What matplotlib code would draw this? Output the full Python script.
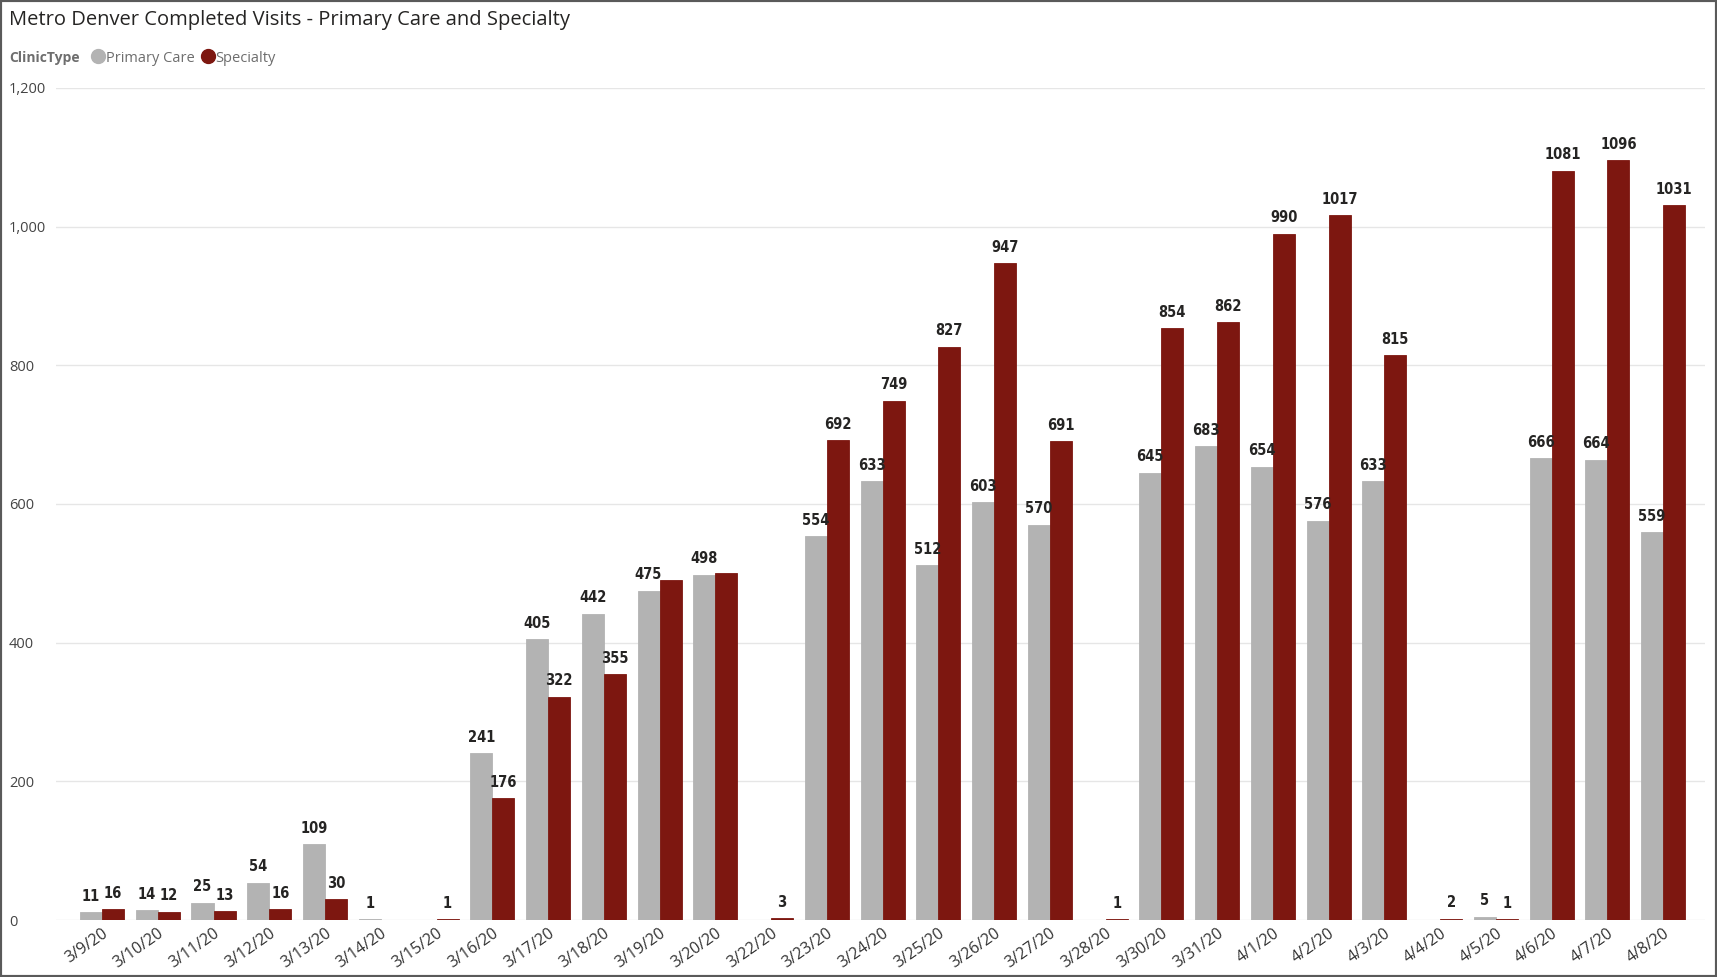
import matplotlib
matplotlib.use("Agg")
import matplotlib.pyplot as plt
import numpy as np
from matplotlib.lines import Line2D
from matplotlib.patches import Rectangle
from matplotlib.ticker import FuncFormatter

dates = [
    "3/9/20", "3/10/20", "3/11/20", "3/12/20", "3/13/20", "3/14/20", "3/15/20",
    "3/16/20", "3/17/20", "3/18/20", "3/19/20", "3/20/20", "3/22/20", "3/23/20",
    "3/24/20", "3/25/20", "3/26/20", "3/27/20", "3/28/20", "3/30/20", "3/31/20",
    "4/1/20", "4/2/20", "4/3/20", "4/4/20", "4/5/20", "4/6/20", "4/7/20", "4/8/20",
]
primary_care = [
    11, 14, 25, 54, 109, 1, 0, 241, 405, 442, 475, 498, 0, 554,
    633, 512, 603, 570, 0, 645, 683, 654, 576, 633, 0, 5, 666, 664, 559,
]
specialty = [
    16, 12, 13, 16, 30, 0, 1, 176, 322, 355, 490, 501, 3, 692,
    749, 827, 947, 691, 1, 854, 862, 990, 1017, 815, 2, 1, 1081, 1096, 1031,
]
# labels Power BI dropped because they collided
specialty_hidden_labels = ["3/19/20", "3/20/20"]
y_ticks = [0, 200, 400, 600, 800, 1000, 1200]

GREY = "#B3B3B3"
RED = "#7D1710"
W, H = 1717, 977

plt.rcParams["font.family"] = ["Open Sans", "DejaVu Sans"]

fig = plt.figure(figsize=(W / 100, H / 100), dpi=100)
ax = fig.add_axes([56 / W, 57 / H, (1705 - 56) / W, (920 - 88) / H])

x = np.arange(len(dates))
bw = 0.395
ax.bar(x - bw / 2, primary_care, bw, color=GREY, edgecolor=GREY, linewidth=0.6, zorder=3)
ax.bar(x + bw / 2, specialty, bw, color=RED, edgecolor=RED, linewidth=0.6, zorder=3)

lab_kw = dict(textcoords="offset points", xytext=(0, 6), ha="center", va="bottom",
              fontsize=10.5, fontweight="bold", fontstretch="condensed",
              family=["DejaVu Sans"], color="#252423", zorder=5)
for i, d in enumerate(dates):
    if primary_care[i] > 0:
        ax.annotate(str(primary_care[i]), (x[i] - bw / 2, primary_care[i]), **lab_kw)
    if specialty[i] > 0 and d not in specialty_hidden_labels:
        ax.annotate(str(specialty[i]), (x[i] + bw / 2, specialty[i]), **lab_kw)

ax.set_xlim(-0.825, len(dates) - 1 + 0.75)
ax.set_ylim(0, 1200)
ax.set_yticks(y_ticks)
ax.yaxis.set_major_formatter(FuncFormatter(lambda v, p: f"{int(v):,}"))
ax.grid(axis="y", color="#E6E6E6", linewidth=1, zorder=0)
for s in ax.spines.values():
    s.set_visible(False)

ax.set_xticks(x)
ax.set_xticklabels(dates, rotation=35, ha="right", rotation_mode="anchor",
                   fontsize=11.5, color="#333333")
ax.tick_params(axis="x", length=0, pad=4)
ax.tick_params(axis="y", length=0, pad=34, labelsize=10.5, labelcolor="#444444")
for lbl in ax.get_yticklabels():
    lbl.set_ha("left")

fig.text(9 / W, 1 - 20 / H, "Metro Denver Completed Visits - Primary Care and Specialty",
         fontsize=14.5, color="#252423", ha="left", va="center")

fig.text(9 / W, 1 - 58 / H, "ClinicType", fontsize=10, fontweight="bold",
         color="#6E6E6E", ha="left", va="center")
handles = [
    Line2D([], [], linestyle="none", marker="o", markersize=10, color=GREY),
    Line2D([], [], linestyle="none", marker="o", markersize=10, color=RED),
]
fig.legend(handles, ["Primary Care", "Specialty"], loc="center left",
           bbox_to_anchor=(86 / W, 1 - 58 / H), ncol=2, frameon=False,
           borderpad=0, handlelength=0.7, handletextpad=0.15, columnspacing=0.6,
           prop={"size": 10.5}, labelcolor="#6E6E6E")

fig.add_artist(Rectangle((0, 0), 1, 1, transform=fig.transFigure, fill=False,
                         edgecolor="#5A5A5A", linewidth=3))

fig.savefig("out.png", dpi=100)
